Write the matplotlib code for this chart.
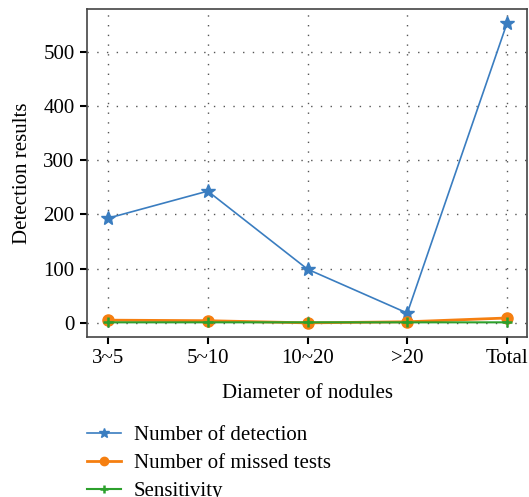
import matplotlib
matplotlib.use("Agg")
import matplotlib.pyplot as plt

plt.rcParams['font.family'] = ['Liberation Serif', 'DejaVu Serif']

categories = ["3~5", "5~10", "10~20", ">20", "Total"]
detected = [193, 243, 99, 18, 553]
missed = [5, 4, 0, 2, 9]
sensitivity = [0.97, 0.98, 0.99, 0.95, 0.98]

fig = plt.figure(figsize=(5.29, 4.97), dpi=100)
ax = fig.add_axes([0.1645, 0.322, 0.8317, 0.66])

x = range(len(categories))
ax.plot(x, detected, color="#3a7dc0", lw=1.2, marker="*", ms=10, label="Number of detection")
ax.plot(x, missed, color="#f57f10", lw=2, marker="o", ms=8, label="Number of missed tests")
ax.plot(x, sensitivity, color="#2ca02c", lw=1.5, marker="+", ms=7, mew=1.8, label="Sensitivity")

ax.set_xlim(-0.21, 4.2)
ax.set_ylim(-26, 579)
ax.set_xticks(list(x))
ax.set_xticklabels(categories)
ax.set_yticks([0, 100, 200, 300, 400, 500])
ax.tick_params(labelsize=15, direction="out", length=5, width=1.5, color="black", pad=4)
ax.grid(True, linestyle=(0, (1, 6)), color="#555555", lw=1)
for s in ax.spines.values():
    s.set_color("#444444")
    s.set_linewidth(1.2)

ax.set_xlabel("Diameter of nodules", fontsize=15, labelpad=11)
ax.set_ylabel("Detection results", fontsize=15, labelpad=8)

fig.legend(loc="upper left", bbox_to_anchor=(0.148, 0.16), frameon=False, fontsize=15,
           handlelength=1.65, labelspacing=0.4, borderaxespad=0, handletextpad=0.6,
           markerscale=0.75)

fig.savefig("out.png", dpi=100)
